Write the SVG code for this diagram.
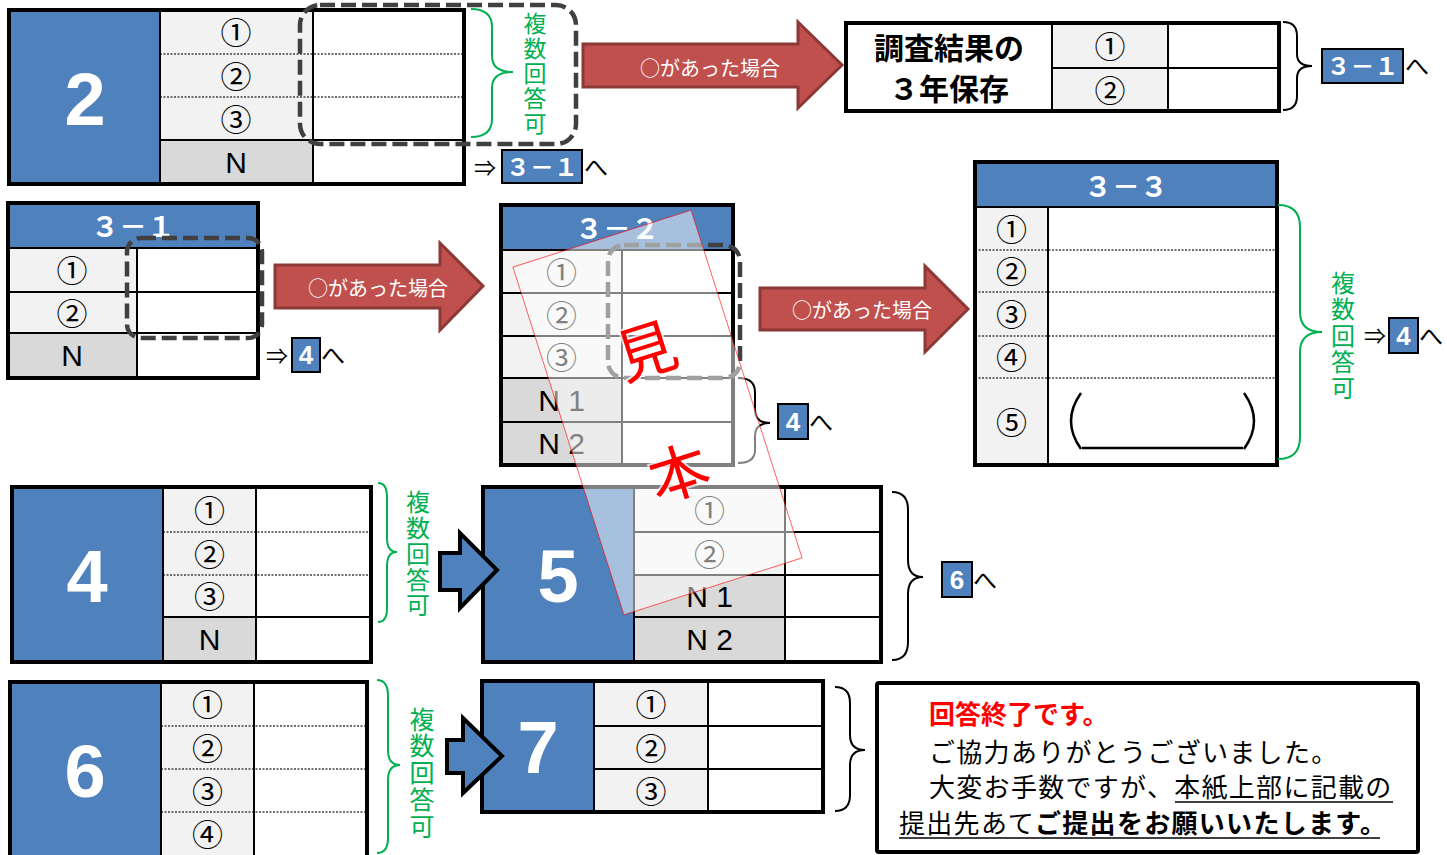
<svg xmlns="http://www.w3.org/2000/svg" width="1447" height="855" viewBox="0 0 1447 855">
<style>
.tb{fill:none;stroke:#000;stroke-width:4}
.ln{stroke:#000;stroke-width:2}
.dt{stroke:#404040;stroke-width:1.3;stroke-dasharray:2 1.5}
.blue{fill:#4f81bd}
.g1{fill:#f2f2f2}
.g2{fill:#d9d9d9}
.wh{fill:#fff}
.big{font-family:"Liberation Sans",Arial,sans-serif;font-weight:bold;fill:#fff;text-anchor:middle;font-size:74px}
.cn{font-family:"Noto Sans CJK JP",sans-serif;font-size:31px;text-anchor:middle;fill:#000}
.nn{font-family:"Liberation Sans",Arial,sans-serif;font-size:30px;text-anchor:middle;fill:#000}
.hd{font-family:"Noto Sans CJK JP",sans-serif;font-weight:bold;font-size:28px;fill:#fff;text-anchor:middle}
.dash{fill:none;stroke:#404040;stroke-width:4.5;stroke-dasharray:15 6}
.gb{fill:none;stroke:#00b050;stroke-width:2}
.bb{fill:none;stroke:#000;stroke-width:2}
.gt{font-family:"Noto Sans CJK JP",sans-serif;font-size:24px;fill:#00b050;writing-mode:vertical-rl;text-orientation:upright}
.ra{fill:#c0504d;stroke:#8c3836;stroke-width:3}
.rt{font-family:"Noto Sans CJK JP",sans-serif;font-size:20px;fill:#fff;text-anchor:middle}
.ba{fill:#4f81bd;stroke:#000;stroke-width:4}
.bx{fill:#4f81bd;stroke:#000;stroke-width:2}
.bxt{font-family:"Liberation Sans",Arial,sans-serif;font-weight:bold;font-size:26px;fill:#fff;text-anchor:middle}
.bxj{font-family:"Noto Sans CJK JP",sans-serif;font-weight:bold;font-size:24px;fill:#fff;text-anchor:middle}
.jt{font-family:"Noto Sans CJK JP",sans-serif;font-size:24px;fill:#000}
.msg{font-family:"Noto Sans CJK JP",sans-serif;font-size:26px;letter-spacing:1.3px;fill:#000}
</style>

<!-- Block 2 -->
<g id="n2">
<rect class="blue" x="9" y="10" width="151" height="174"/>
<rect class="g1" x="160" y="10" width="153" height="130"/>
<rect class="g2" x="160" y="140" width="153" height="44"/>
<rect class="wh" x="313" y="10" width="151" height="174"/>
<line class="dt" x1="160" y1="54" x2="464" y2="54"/>
<line class="dt" x1="160" y1="97" x2="464" y2="97"/>
<line class="ln" x1="160" y1="140" x2="464" y2="140"/>
<line class="ln" x1="160" y1="10" x2="160" y2="184"/>
<line class="ln" x1="313" y1="10" x2="313" y2="184"/>
<rect class="tb" x="9" y="10" width="455" height="174"/>
<text class="big" x="85" y="125">2</text>
<text class="cn" x="236" y="44">①</text>
<text class="cn" x="236" y="87.5">②</text>
<text class="cn" x="236" y="130.5">③</text>
<text class="nn" x="236" y="172.7">N</text>
<rect class="dash" x="300" y="5" width="276" height="139" rx="20"/>
<path class="gb" d="M471,9 Q492,9 492,27 L492,56 Q492,72 513,72 Q492,72 492,88 L492,119 Q492,137 471,137"/>
<text class="gt" x="535" y="11.5" style="font-size:23px;letter-spacing:2px">複数回答可</text>
<text class="jt" x="474" y="176" style="font-size:22px">⇒</text>
<rect class="bx" x="502" y="150" width="80" height="33"/>
<text class="bxj" x="542" y="175.5">３－１</text>
<text class="jt" x="584" y="176">へ</text>
</g>

<!-- Save table -->
<g id="nsave">
<rect class="wh" x="846" y="23" width="206" height="88"/>
<rect class="g1" x="1052" y="23" width="116" height="88"/>
<rect class="wh" x="1168" y="23" width="111" height="88"/>
<line class="ln" x1="1052" y1="23" x2="1052" y2="111"/>
<line class="ln" x1="1168" y1="23" x2="1168" y2="111"/>
<line class="ln" x1="1052" y1="68" x2="1279" y2="68"/>
<rect class="tb" x="846" y="23" width="433" height="88"/>
<text x="949" y="59" style="font-family:'Noto Sans CJK JP',sans-serif;font-weight:bold;font-size:30px;text-anchor:middle">調査結果の</text>
<text x="949" y="100" style="font-family:'Noto Sans CJK JP',sans-serif;font-weight:bold;font-size:30px;text-anchor:middle">３年保存</text>
<text class="cn" x="1110" y="57.5">①</text>
<text class="cn" x="1110" y="101.5">②</text>
<path class="bb" d="M1283,22 Q1297,22 1297,36 L1297,54 Q1297,66 1312,66 Q1297,66 1297,78 L1297,96 Q1297,110 1283,110"/>
<rect class="bx" x="1322" y="49" width="81" height="34"/>
<text class="bxj" x="1362.5" y="75">３－１</text>
<text class="jt" x="1405" y="75">へ</text>
</g>

<!-- Block 3-1 -->
<g id="n31">
<rect class="blue" x="8" y="203" width="250" height="45"/>
<rect class="g1" x="8" y="248" width="129" height="85"/>
<rect class="g2" x="8" y="333" width="129" height="45"/>
<rect class="wh" x="137" y="248" width="121" height="130"/>
<line class="ln" x1="8" y1="248" x2="258" y2="248"/>
<line class="ln" x1="8" y1="292" x2="258" y2="292"/>
<line class="ln" x1="8" y1="333" x2="258" y2="333"/>
<line class="ln" x1="137" y1="248" x2="137" y2="378"/>
<rect class="tb" x="8" y="203" width="250" height="175"/>
<text class="hd" x="133" y="237">３－１</text>
<text class="cn" x="72" y="282">①</text>
<text class="cn" x="72" y="324.5">②</text>
<text class="nn" x="72" y="366">N</text>
<rect class="dash" x="127" y="238" width="135" height="100" rx="14"/>
<text class="jt" x="266" y="364" style="font-size:22px">⇒</text>
<rect class="bx" x="292" y="338" width="28" height="34"/>
<text class="bxt" x="306" y="364">4</text>
<text class="jt" x="321" y="364">へ</text>
</g>

<!-- Block 3-2 -->
<g id="n32">
<rect class="blue" x="501" y="205" width="232" height="45"/>
<rect class="g1" x="501" y="250" width="121" height="128"/>
<rect class="g2" x="501" y="378" width="121" height="87"/>
<rect class="wh" x="622" y="250" width="111" height="215"/>
<line class="ln" x1="501" y1="250" x2="733" y2="250"/>
<line class="ln" x1="501" y1="293" x2="733" y2="293"/>
<line class="ln" x1="501" y1="336" x2="733" y2="336"/>
<line class="ln" x1="501" y1="378" x2="733" y2="378"/>
<line class="ln" x1="501" y1="422" x2="733" y2="422"/>
<line class="ln" x1="622" y1="250" x2="622" y2="465"/>
<rect class="tb" x="501" y="205" width="232" height="260"/>
<text class="hd" x="617" y="239">３－２</text>
<text class="cn" x="561.5" y="283.5">①</text>
<text class="cn" x="561.5" y="326.5">②</text>
<text class="cn" x="561.5" y="369">③</text>
<text class="nn" x="561.5" y="410.7">N 1</text>
<text class="nn" x="561.5" y="454">N 2</text>
<rect class="dash" x="608" y="245" width="132" height="133" rx="16"/>
<path class="bb" d="M738,378 Q755,378 755,392 L755,410 Q755,423 770,423 Q755,423 755,436 L755,450 Q755,463 738,463"/>
<rect class="bx" x="778" y="404" width="30" height="35"/>
<text class="bxt" x="793" y="431">4</text>
<text class="jt" x="809" y="431">へ</text>
</g>

<!-- Block 3-3 -->
<g id="n33">
<rect class="blue" x="975" y="162" width="302" height="45"/>
<rect class="g1" x="975" y="207" width="73" height="258"/>
<rect class="wh" x="1048" y="207" width="229" height="258"/>
<line class="dt" x1="975" y1="250" x2="1277" y2="250"/>
<line class="dt" x1="975" y1="292" x2="1277" y2="292"/>
<line class="dt" x1="975" y1="336" x2="1277" y2="336"/>
<line class="dt" x1="975" y1="378" x2="1277" y2="378"/>
<line class="ln" x1="975" y1="207" x2="1277" y2="207"/>
<line class="ln" x1="1048" y1="207" x2="1048" y2="465"/>
<rect class="tb" x="975" y="162" width="302" height="303"/>
<text class="hd" x="1126" y="197">３－３</text>
<text class="cn" x="1011.5" y="240.5">①</text>
<text class="cn" x="1011.5" y="283">②</text>
<text class="cn" x="1011.5" y="326">③</text>
<text class="cn" x="1011.5" y="369">④</text>
<text class="cn" x="1011.5" y="433.5">⑤</text>
<path fill="none" stroke="#000" stroke-width="2.5" d="M1081,393 Q1061,421 1081,449 M1244,393 Q1264,421 1244,449 M1082,448 H1243"/>
<path class="gb" d="M1278,205 Q1300,205 1300,227 L1300,312 Q1300,332 1322,332 Q1300,332 1300,352 L1300,437 Q1300,459 1278,459"/>
<text class="gt" x="1343" y="271" style="letter-spacing:2.2px">複数回答可</text>
<text class="jt" x="1364" y="344" style="font-size:22px">⇒</text>
<rect class="bx" x="1389" y="318" width="29" height="35"/>
<text class="bxt" x="1403.5" y="345">4</text>
<text class="jt" x="1419" y="345">へ</text>
</g>

<!-- Block 4 -->
<g id="n4">
<rect class="blue" x="12" y="487" width="151" height="175"/>
<rect class="g1" x="163" y="487" width="93" height="130"/>
<rect class="g2" x="163" y="617" width="93" height="45"/>
<rect class="wh" x="256" y="487" width="115" height="175"/>
<line class="dt" x1="163" y1="532" x2="371" y2="532"/>
<line class="dt" x1="163" y1="575" x2="371" y2="575"/>
<line class="ln" x1="163" y1="617" x2="371" y2="617"/>
<line class="ln" x1="163" y1="487" x2="163" y2="662"/>
<line class="ln" x1="256" y1="487" x2="256" y2="662"/>
<rect class="tb" x="12" y="487" width="359" height="175"/>
<text class="big" x="87" y="602">4</text>
<text class="cn" x="209.5" y="521.5">①</text>
<text class="cn" x="209.5" y="565.5">②</text>
<text class="cn" x="209.5" y="608">③</text>
<text class="nn" x="209.5" y="650">N</text>
<path class="gb" d="M378,483 Q387,483 387,497 L387,538 Q387,552 397,552 Q387,552 387,566 L387,608 Q387,622 378,622"/>
<text class="gt" x="418" y="490" style="letter-spacing:1.8px">複数回答可</text>
</g>

<!-- Block 5 -->
<g id="n5">
<rect class="blue" x="483" y="487" width="151" height="175"/>
<rect class="g1" x="634" y="487" width="151" height="88"/>
<rect class="g2" x="634" y="575" width="151" height="87"/>
<rect class="wh" x="785" y="487" width="96" height="175"/>
<line class="ln" x1="634" y1="532" x2="881" y2="532"/>
<line class="ln" x1="634" y1="575" x2="881" y2="575"/>
<line class="ln" x1="634" y1="617" x2="881" y2="617"/>
<line class="ln" x1="634" y1="487" x2="634" y2="662"/>
<line class="ln" x1="785" y1="487" x2="785" y2="662"/>
<rect class="tb" x="483" y="487" width="398" height="175"/>
<text class="big" x="558" y="602">5</text>
<text class="cn" x="709.5" y="521.5">①</text>
<text class="cn" x="709.5" y="565.5">②</text>
<text class="nn" x="709.5" y="606.7">N 1</text>
<text class="nn" x="709.5" y="650">N 2</text>
<path class="bb" d="M892,492 Q908,492 908,510 L908,560 Q908,577 923,577 Q908,577 908,594 L908,642 Q908,660 892,660"/>
<rect class="bx" x="942" y="562" width="30" height="35"/>
<text class="bxt" x="957" y="589">6</text>
<text class="jt" x="973" y="589">へ</text>
</g>

<!-- Block 6 -->
<g id="n6">
<rect class="blue" x="10" y="682" width="151" height="190"/>
<rect class="g1" x="161" y="682" width="93" height="190"/>
<rect class="wh" x="254" y="682" width="113" height="190"/>
<line class="dt" x1="161" y1="726" x2="367" y2="726"/>
<line class="dt" x1="161" y1="769" x2="367" y2="769"/>
<line class="dt" x1="161" y1="812" x2="367" y2="812"/>
<line class="ln" x1="161" y1="682" x2="161" y2="872"/>
<line class="ln" x1="254" y1="682" x2="254" y2="872"/>
<rect class="tb" x="10" y="682" width="357" height="190"/>
<text class="big" x="85" y="797">6</text>
<text class="cn" x="207.5" y="716">①</text>
<text class="cn" x="207.5" y="759.5">②</text>
<text class="cn" x="207.5" y="802.5">③</text>
<text class="cn" x="207.5" y="845.5">④</text>
<path class="gb" d="M377,680 Q388,680 388,696 L388,750 Q388,765 400,765 Q388,765 388,780 L388,838 Q388,853 377,853"/>
<text class="gt" x="422" y="706.5" style="font-size:25px;letter-spacing:1.8px">複数回答可</text>
</g>

<!-- Block 7 -->
<g id="n7">
<rect class="blue" x="482" y="681" width="112" height="131"/>
<rect class="g1" x="594" y="681" width="114" height="131"/>
<rect class="wh" x="708" y="681" width="115" height="131"/>
<line class="ln" x1="594" y1="726" x2="823" y2="726"/>
<line class="ln" x1="594" y1="769" x2="823" y2="769"/>
<line class="ln" x1="594" y1="681" x2="594" y2="812"/>
<line class="ln" x1="708" y1="681" x2="708" y2="812"/>
<rect class="tb" x="482" y="681" width="341" height="131"/>
<text class="big" x="538" y="773">7</text>
<text class="cn" x="651" y="715.5">①</text>
<text class="cn" x="651" y="759.5">②</text>
<text class="cn" x="651" y="802.5">③</text>
<path class="bb" d="M835,687 Q850,687 850,703 L850,735 Q850,750 865,750 Q850,750 850,765 L850,795 Q850,811 835,811"/>
</g>

<!-- End message -->
<g id="nend">
<rect x="877" y="683" width="541" height="169" fill="#fff" stroke="#000" stroke-width="4" rx="2"/>
<text class="msg" x="929" y="724" style="fill:#ff0000;font-weight:bold;letter-spacing:0px">回答終了です。</text>
<text class="msg" x="929" y="761.5">ご協力ありがとうございました。</text>
<text class="msg" x="929" y="796.5">大変お手数ですが、本紙上部に記載の</text>
<text class="msg" x="899" y="833">提出先あて<tspan style="font-weight:bold">ご提出をお願いいたします。</tspan></text>
<line x1="1175" y1="802" x2="1393" y2="802" stroke="#000" stroke-width="1.5"/>
<line x1="899" y1="838" x2="1380" y2="838" stroke="#000" stroke-width="1.5"/>
</g>

<!-- Connectors -->
<g id="connectors">
<path class="ra" d="M583,44 H798 V22 L842,65 L798,108 V87 H583 Z"/>
<text class="rt" x="710" y="76">○があった場合</text>
<path class="ra" d="M275,265 H440 V243 L483,286 L440,330 V308 H275 Z"/>
<text class="rt" x="378" y="296">○があった場合</text>
<path class="ra" d="M760,288 H925 V266 L968,309 L925,352 V330 H760 Z"/>
<text class="rt" x="862" y="318">○があった場合</text>
<path class="ba" d="M440,553 H460 V533 L497,570 L460,608 V590 H440 Z"/>
<path class="ba" d="M447,740 H463 V718 L502,756 L463,793 V773 H447 Z"/>
</g>

<!-- Sample stamp -->
<g id="stamp" transform="translate(657.5,412.5) rotate(-17.7)">
<rect x="-93.5" y="-182.5" width="187" height="365" fill="#fff" fill-opacity="0.5" stroke="#ff0000" stroke-opacity="0.6" stroke-width="1"/>
<text x="8" y="-40" style="font-family:'Noto Sans CJK JP',sans-serif;font-size:60px;fill:#ff0000;text-anchor:middle;stroke:#fff;stroke-opacity:0.7;stroke-width:4;paint-order:stroke">見</text>
<text x="2" y="86" style="font-family:'Noto Sans CJK JP',sans-serif;font-size:60px;fill:#ff0000;text-anchor:middle;stroke:#fff;stroke-opacity:0.7;stroke-width:4;paint-order:stroke">本</text>
</g>
</svg>
